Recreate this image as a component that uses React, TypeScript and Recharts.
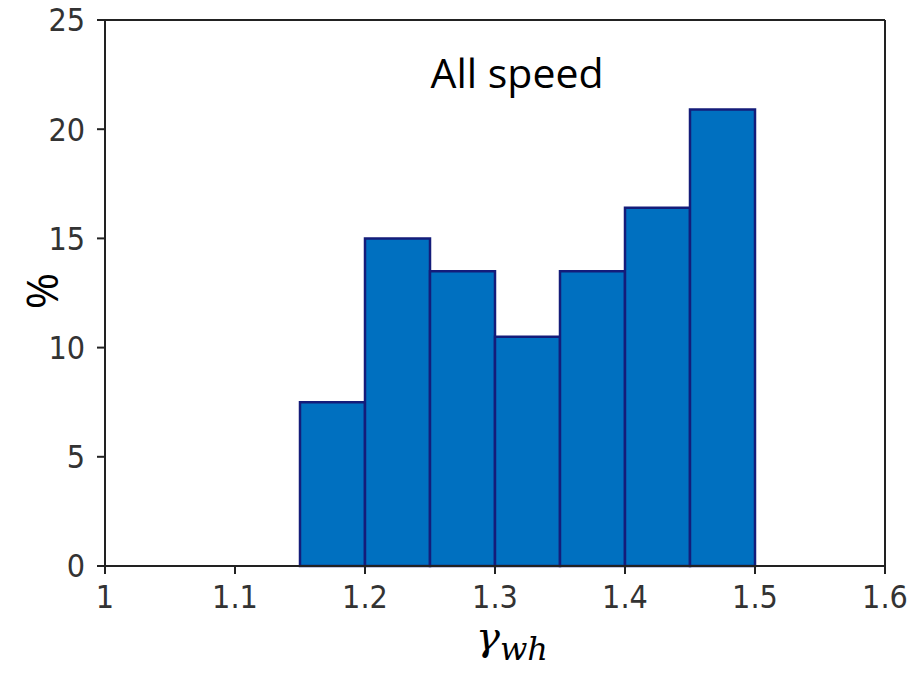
import { ComposedChart, ReferenceArea, ReferenceLine, XAxis, YAxis } from "recharts";

// histogram bins of gamma_wh (left edge, right edge) and their share in %
const binStart = [1.15, 1.2, 1.25, 1.3, 1.35, 1.4, 1.45];
const binEnd = [1.2, 1.25, 1.3, 1.35, 1.4, 1.45, 1.5];
const percent = [7.5, 15, 13.5, 10.5, 13.5, 16.4, 20.9];

const xTicks = [1, 1.1, 1.2, 1.3, 1.4, 1.5, 1.6];
const yTicks = [0, 5, 10, 15, 20, 25];

const bins = binStart.map((start, i) => ({ start, end: binEnd[i], value: percent[i] }));

const tickFont = {
  fontFamily: "'Liberation Sans Narrow', 'DejaVu Sans Condensed', sans-serif",
  fontSize: 32,
  fill: "#333",
};

export default function App() {
  return (
    <div style={{ position: "absolute", left: 0, top: 0, width: 920, height: 676, background: "#fff" }}>
      <ComposedChart width={920} height={676} data={bins} margin={{ top: 20, right: 35, left: 0, bottom: 0 }}>
        <XAxis
          dataKey="start"
          type="number"
          domain={[1, 1.6]}
          ticks={xTicks}
          allowDataOverflow
          height={110}
          stroke="#222"
          strokeWidth={2}
          tickSize={8}
          tickMargin={11}
          tick={tickFont}
          tickFormatter={(v: number) => String(v)}
        />
        <YAxis
          type="number"
          domain={[0, 25]}
          ticks={yTicks}
          allowDataOverflow
          width={105}
          stroke="#222"
          strokeWidth={2}
          tickSize={8}
          tickMargin={12}
          tick={tickFont}
        />
        {bins.map((b) => (
          <ReferenceArea
            key={b.start}
            x1={b.start}
            x2={b.end}
            y1={0}
            y2={b.value}
            fill="#0070C0"
            fillOpacity={1}
            stroke="#141C7A"
            strokeWidth={2.5}
          />
        ))}
        <ReferenceLine y={25} stroke="#222" strokeWidth={2} />
        <ReferenceLine x={1.6} stroke="#222" strokeWidth={2} />
      </ComposedChart>
      <svg width={920} height={676} style={{ position: "absolute", left: 0, top: 0, pointerEvents: "none" }}>
        <text x={517} y={88} textAnchor="middle" fontFamily="'Open Sans', sans-serif" fontSize={41} fill="#000">
          All speed
        </text>
        <text
          transform="translate(58,291) rotate(-90)"
          textAnchor="middle"
          fontFamily="'Open Sans', sans-serif"
          fontSize={44}
          fill="#000"
        >
          %
        </text>
        <text x={512} y={650} textAnchor="middle" fontFamily="'DejaVu Serif', serif" fontStyle="italic" fill="#000">
          <tspan fontSize={40}>γ</tspan>
          <tspan fontSize={32} dy={10}>wh</tspan>
        </text>
      </svg>
    </div>
  );
}
